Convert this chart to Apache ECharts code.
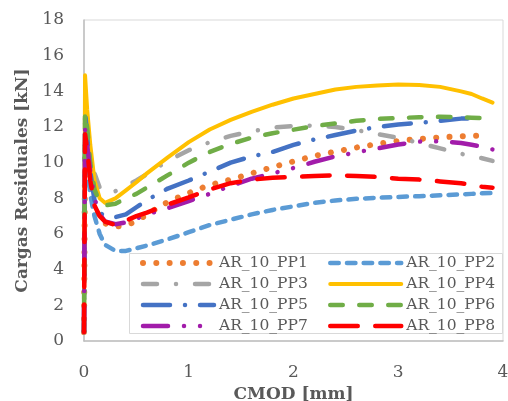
<!DOCTYPE html>
<html>
<head>
<meta charset="utf-8">
<script src="https://cdn.jsdelivr.net/npm/echarts@6/dist/echarts.min.js"></script>
<style>
  html, body { margin: 0; padding: 0; background: #fff; }
  #chart { width: 508px; height: 401px; }
</style>
</head>
<body>
<div id="chart"></div>
<script>
// CMOD readings [mm] shared by every specimen
const cmod = [0, 0.01, 0.03, 0.06, 0.1, 0.15, 0.2, 0.3, 0.4, 0.5, 0.6, 0.8, 1.0, 1.2, 1.4, 1.6, 1.8, 2.0, 2.2, 2.4, 2.6, 2.8, 3.0, 3.2, 3.4, 3.6, 3.7, 3.8, 3.9];

// Residual load [kN] for each specimen at the CMOD readings above
const pp1 = [0.5, 10.5, 10.0, 8.8, 7.6, 6.9, 6.6, 6.4, 6.5, 6.7, 7.1, 7.8, 8.3, 8.75, 9.05, 9.4, 9.75, 10.07, 10.38, 10.62, 10.85, 11.05, 11.22, 11.33, 11.42, 11.48, 11.5, 11.52, null];
const pp2 = [0.5, 10.8, 10.0, 8.2, 7.0, 6.0, 5.4, 5.05, 5.05, 5.2, 5.35, 5.7, 6.1, 6.5, 6.8, 7.1, 7.35, 7.55, 7.75, 7.88, 7.97, 8.03, 8.08, 8.12, 8.17, 8.22, 8.25, 8.28, 8.3];
const pp3 = [0.5, 12.2, 11.5, 10.3, 9.4, 8.6, 8.3, 8.4, 8.7, 9.0, 9.35, 10.1, 10.7, 11.15, 11.5, 11.75, 11.97, 12.06, 12.08, 12.0, 11.83, 11.6, 11.4, 11.1, 10.8, 10.5, 10.35, 10.25, 10.1];
const pp4 = [0.5, 14.9, 13.0, 11.0, 9.0, 8.0, 7.75, 8.0, 8.45, 8.9, 9.4, 10.3, 11.15, 11.86, 12.4, 12.85, 13.25, 13.6, 13.85, 14.1, 14.25, 14.33, 14.38, 14.35, 14.25, 14.0, 13.85, 13.6, 13.37];
const pp5 = [0.5, 12.9, 11.5, 9.5, 7.9, 7.2, 7.0, 6.95, 7.1, 7.5, 7.9, 8.55, 9.0, 9.5, 10.0, 10.35, 10.6, 11.0, 11.3, 11.55, 11.8, 12.0, 12.14, 12.23, 12.35, 12.47, 12.47, null, null];
const pp6 = [0.5, 12.8, 12.0, 10.0, 8.5, 7.8, 7.6, 7.7, 8.0, 8.25, 8.6, 9.3, 10.0, 10.6, 11.05, 11.4, 11.65, 11.85, 12.05, 12.2, 12.35, 12.45, 12.5, 12.55, 12.57, 12.55, 12.52, 12.5, 12.46];
const pp7 = [0.5, 11.86, 11.0, 9.5, 8.0, 7.1, 6.7, 6.55, 6.65, 6.85, 7.1, 7.45, 7.85, 8.25, 8.7, 9.1, 9.4, 9.7, 10.05, 10.35, 10.58, 10.8, 11.02, 11.18, 11.2, 11.1, 11.0, 10.9, 10.74];
const pp8 = [0.5, 11.6, 10.8, 9.0, 7.6, 7.0, 6.7, 6.5, 6.75, 7.0, 7.2, 7.65, 8.05, 8.5, 8.85, 9.05, 9.15, 9.2, 9.25, 9.3, 9.25, 9.2, 9.1, 9.05, 8.95, 8.85, 8.75, 8.65, 8.6];

const seriesNames = ['AR_10_PP1', 'AR_10_PP2', 'AR_10_PP3', 'AR_10_PP4', 'AR_10_PP5', 'AR_10_PP6', 'AR_10_PP7', 'AR_10_PP8'];
const seriesValues = [pp1, pp2, pp3, pp4, pp5, pp6, pp7, pp8];

// x-axis ticks 0..4, y-axis ticks 0..18 step 2
const xTicks = { min: 0, max: 4, step: 1 };
const yTicks = { min: 0, max: 18, step: 2 };

// line look per specimen
const styles = [
  { color: '#ED7D31', width: 6,   type: [0.01, 13.3] },
  { color: '#5B9BD5', width: 4.5, type: [8.5, 8.2] },
  { color: '#A5A5A5', width: 4.5, type: [14, 19, 0.01, 19] },
  { color: '#FFC000', width: 4,   type: 'solid' },
  { color: '#4472C4', width: 4.5, type: [27, 15, 0.01, 15] },
  { color: '#70AD47', width: 4.5, type: [12.5, 16.5] },
  { color: '#A21CAA', width: 4.5, type: [25, 16, 0.01, 16, 0.01, 16] },
  { color: '#FF0000', width: 4.5, type: [27.5, 17.5] }
];

const FONT = 'DejaVu Serif';
const TEXT = '#595959';

const series = seriesNames.map((name, k) => ({
  name: name,
  type: 'line',
  symbol: 'none',
  showSymbol: false,
  clip: false,
  smooth: false,
  color: styles[k].color,
  lineStyle: {
    color: styles[k].color,
    width: styles[k].width,
    type: styles[k].type,
    cap: 'round',
    join: 'round'
  },
  data: cmod.map((x, i) => [x, seriesValues[k][i]]).filter(p => p[1] !== null)
}));

const legendCommon = {
  orient: 'vertical',
  itemWidth: 71,
  itemHeight: 18,
  itemGap: 3,
  padding: 0,
  itemStyle: { opacity: 0, borderWidth: 0 },
  lineStyle: { width: 'inherit', type: 'inherit', cap: 'round', join: 'round' },
  textStyle: { fontFamily: FONT, fontSize: 15.5, color: TEXT, lineHeight: 18 }
};

const chart = echarts.init(document.getElementById('chart'), null, { renderer: 'canvas' });
chart.setOption({
  animation: false,
  backgroundColor: '#ffffff',
  grid: {
    left: 84, right: 5, top: 20, bottom: 60,
    outerBoundsMode: 'none',
    show: true, borderColor: '#D9D9D9', borderWidth: 1, backgroundColor: 'transparent'
  },
  xAxis: {
    type: 'value',
    min: xTicks.min, max: xTicks.max, interval: xTicks.step,
    name: 'CMOD [mm]',
    nameLocation: 'middle',
    nameGap: 33,
    nameTextStyle: { fontFamily: FONT, fontSize: 17, fontWeight: 'bold', color: TEXT },
    axisLine: { show: true, lineStyle: { color: '#BFBFBF', width: 1.5 } },
    axisTick: { show: false },
    splitLine: { show: false },
    axisLabel: { margin: 23, fontFamily: FONT, fontSize: 17, color: TEXT }
  },
  yAxis: {
    type: 'value',
    min: yTicks.min, max: yTicks.max, interval: yTicks.step,
    name: 'Cargas Residuales [kN]',
    nameLocation: 'middle',
    nameGap: 48,
    nameTextStyle: { fontFamily: FONT, fontSize: 17, fontWeight: 'bold', color: TEXT },
    axisLine: { show: true, lineStyle: { color: '#BFBFBF', width: 1.5 } },
    axisTick: { show: false },
    splitLine: { show: false },
    axisLabel: { margin: 20, fontFamily: FONT, fontSize: 17, color: TEXT }
  },
  graphic: [{
    type: 'rect',
    z: 3,
    shape: { x: 129.5, y: 253.5, width: 373, height: 80 },
    style: { fill: '#ffffff', stroke: '#D9D9D9', lineWidth: 1 }
  }],
  legend: [
    Object.assign({}, legendCommon, { left: 140, top: 254, data: ['AR_10_PP1', 'AR_10_PP3', 'AR_10_PP5', 'AR_10_PP7'] }),
    Object.assign({}, legendCommon, { left: 328, top: 254, data: ['AR_10_PP2', 'AR_10_PP4', 'AR_10_PP6', 'AR_10_PP8'] })
  ],
  series: series
});
</script>
</body>
</html>
